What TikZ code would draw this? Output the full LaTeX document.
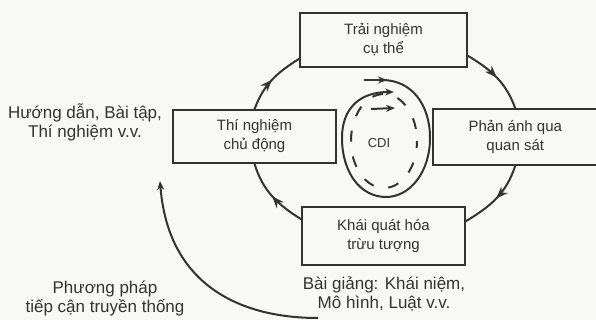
\documentclass[tikz,border=0pt]{standalone}
\usepackage{fontspec}
\setmainfont{Liberation Sans}
\usetikzlibrary{arrows.meta,decorations.markings}
\definecolor{ink}{HTML}{333333}
\definecolor{paper}{HTML}{F8F8F6}
\begin{document}
\begin{tikzpicture}[x=1pt,y=-1pt,
  box/.style={draw=ink,line width=1.4pt,inner sep=0pt,align=center,
    font=\fontsize{15}{19}\selectfont,text=ink},
  note/.style={align=center,font=\fontsize{17}{19}\selectfont,text=ink,inner sep=0pt},
  cyc/.style={draw=ink,line width=2pt,postaction={decorate},
    decoration={markings,mark=at position 0.5 with {\arrow{Stealth[length=12pt,width=9pt]}}}},
  swirl/.style={draw=ink,line width=2pt},
  tip/.style={-{Stealth[length=9pt,width=7pt]}}
]
\useasboundingbox (0,0) rectangle (596,320);
\fill[paper] (0,0) rectangle (596,320);

% the four stages of the cycle
\node[box,minimum width=167pt,minimum height=54pt] (top) at (383.5,40) {Trải nghiệm\\cụ thể};
\node[box,minimum width=163pt,minimum height=53pt] (left) at (254.5,136.5) {Thí nghiệm\\chủ động};
\node[box,minimum width=164.5pt,minimum height=56pt] (right) at (515.25,137) {Phản ánh qua\\quan sát};
\node[box,minimum width=163pt,minimum height=58pt] (bottom) at (383.5,236) {Khái quát hóa\\trừu tượng};

% cycle connectors
\draw[cyc] ([yshift=12pt]top.south east) to[out=-31,in=110] (right.north);
\draw[cyc] (right.south) to[out=-108,in=31] ([yshift=-15pt]bottom.north east);
\draw[cyc] ([yshift=-13pt]bottom.north west) to[out=148,in=-73] (left.south);
\draw[cyc] (left.north) to[out=70,in=212] ([yshift=9pt]top.south west);

% side notes
\node[note] (guide) at (85,122) {Hướng dẫn, Bài tập,\\Thí nghiệm v.v.};
\node[note] (trad) at (105,299) {Phương pháp\\tiếp cận truyền thống};
\node[note] (lect) at (384,294) {Bài giảng: Khái niệm,\\Mô hình, Luật v.v.};

% long arrow of the traditional approach
\coordinate (tr0) at (318,318);
\coordinate (tr1) at (160,181);
\draw[swirl,tip] (tr0) .. controls (240,318) and (168,285) .. (tr1);

% CDI core: spiral, dashed ring and inner arrow
\node[font=\fontsize{13}{13}\selectfont,text=ink,inner sep=0pt] (cdi) at (379,143) {CDI};
\draw[swirl,tip] (364,80) -- (387,80);
\draw[swirl,tip] (382,80) .. controls (412,80) and (430,105) .. (430,138)
  .. controls (430,172) and (410,197) .. (386,197)
  .. controls (360,197) and (342,172) .. (342,138)
  .. controls (342,108) and (360,92) .. (394,92);
\draw[swirl,dash pattern=on 11pt off 15pt,dash phase=4pt] (384,141) ellipse [x radius=33, y radius=47];
\draw[swirl,tip] (371,109) -- (395,108);
\end{tikzpicture}
\end{document}
